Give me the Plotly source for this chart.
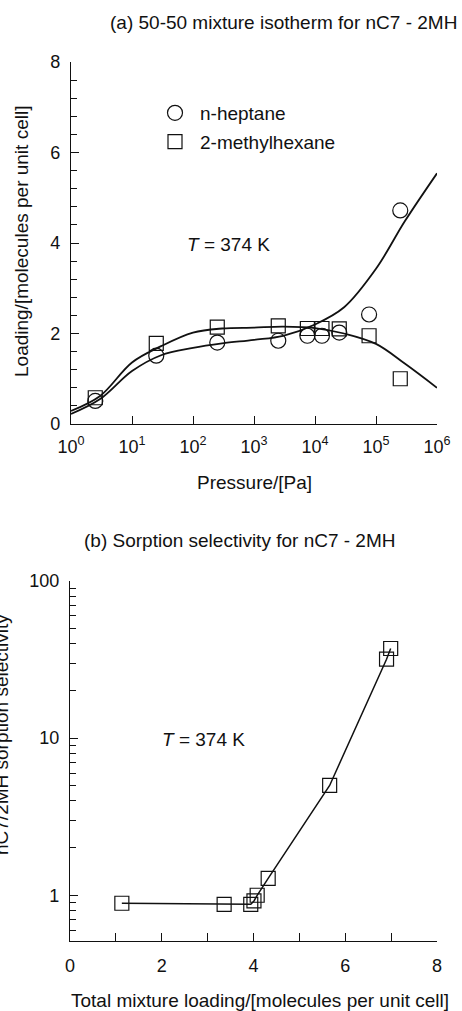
import plotly.graph_objects as go

W, H = 462, 1011

# ---------------- data ----------------
# (a) 50-50 mixture isotherm, simulated points
pressure_pa = [2.5, 25, 250, 2500, 7500, 13000, 25000, 77000, 250000]
nheptane_loading = [0.51, 1.51, 1.80, 1.84, 1.95, 1.95, 2.02, 2.42, 4.72]
methylhexane_loading = [0.58, 1.78, 2.14, 2.17, 2.11, 2.11, 2.10, 1.95, 1.00]

# (a) fitted model curves
curve_pressure = [1, 3, 10, 30, 100, 300, 1e3, 3e3, 1e4, 3e4, 1e5, 3e5, 1e6]
nheptane_fit = [0.22, 0.55, 1.17, 1.52, 1.68, 1.78, 1.86, 1.95, 2.20, 2.58, 3.43, 4.49, 5.54]
methylhexane_fit = [0.29, 0.62, 1.36, 1.72, 2.02, 2.11, 2.13, 2.15, 2.12, 2.00, 1.77, 1.33, 0.80]

# (b) sorption selectivity vs total loading
total_loading = [1.13, 3.36, 3.94, 4.01, 4.08, 4.32, 5.66, 6.90, 6.99]
selectivity = [0.89, 0.876, 0.876, 0.92, 1.0, 1.28, 5.0, 31.8, 37.2]

top_xtick_vals = [1, 10, 100, 1e3, 1e4, 1e5, 1e6]
top_xtick_text = ["10<sup>%d</sup>" % i for i in range(7)]
top_ytick_vals = [0, 2, 4, 6, 8]
bot_xtick_vals = [0, 1, 2, 3, 4, 5, 6, 7, 8]
bot_xtick_text = ["0", "", "2", "", "4", "", "6", "", "8"]
bot_ytick_vals = [1, 10, 100]

# ---------------- helpers (layout only) ----------------
def px_x(x):
    return x / W

def px_y(y):
    return 1 - y / H

FONT = "Liberation Sans, Arial, Helvetica, sans-serif"
BLACK = "#111111"

fig = go.Figure()

fig.add_trace(go.Scatter(x=curve_pressure, y=nheptane_fit, mode="lines",
                         line=dict(color=BLACK, width=1.8, shape="spline", smoothing=1.0),
                         showlegend=False, xaxis="x", yaxis="y"))
fig.add_trace(go.Scatter(x=curve_pressure, y=methylhexane_fit, mode="lines",
                         line=dict(color=BLACK, width=1.8, shape="spline", smoothing=1.0),
                         showlegend=False, xaxis="x", yaxis="y"))
fig.add_trace(go.Scatter(x=pressure_pa, y=nheptane_loading, mode="markers", name="n-heptane",
                         legendgroup="a",
                         marker=dict(symbol="circle-open", size=15, color=BLACK, line=dict(width=1.2, color=BLACK)),
                         xaxis="x", yaxis="y"))
fig.add_trace(go.Scatter(x=pressure_pa, y=methylhexane_loading, mode="markers", name="2-methylhexane",
                         legendgroup="b",
                         marker=dict(symbol="square-open", size=14, color=BLACK, line=dict(width=1.2, color=BLACK)),
                         xaxis="x", yaxis="y"))

fig.add_trace(go.Scatter(x=total_loading, y=selectivity, mode="lines+markers",
                         line=dict(color=BLACK, width=1.5),
                         marker=dict(symbol="square-open", size=14, color=BLACK, line=dict(width=1.2, color=BLACK)),
                         showlegend=False, xaxis="x2", yaxis="y2"))

axis_common = dict(showgrid=False, zeroline=False, showline=True, linecolor=BLACK, linewidth=1.2,
                   ticks="inside", tickcolor=BLACK, tickwidth=1, ticklen=8, automargin=False,
                   tickfont=dict(family=FONT, size=18, color=BLACK), mirror=False)

top_minor = [round(0.4 * i, 1) for i in range(1, 20) if round(0.4 * i, 1) % 2 != 0]
bot_minor = [0.6, 0.7, 0.8, 0.9] + [float(k) for k in range(2, 10)] + [float(k * 10) for k in range(2, 10)]

fig.update_layout(
    width=W, height=H,
    margin=dict(l=0, r=0, t=0, b=0, autoexpand=False),
    paper_bgcolor="white", plot_bgcolor="white",
    font=dict(family=FONT, size=18, color=BLACK),
    showlegend=True,
    legend=dict(x=px_x(150), y=px_y(94), xanchor="left", yanchor="top",
                bgcolor="rgba(0,0,0,0)", font=dict(family=FONT, size=19, color=BLACK),
                traceorder="grouped", tracegroupgap=1, itemwidth=40),
    xaxis=dict(type="log", range=[0, 6], domain=[px_x(71), px_x(437)], anchor="y",
               tickmode="array", tickvals=top_xtick_vals, ticktext=top_xtick_text,
               ticklabelstandoff=6, **axis_common),
    yaxis=dict(range=[0, 8], domain=[px_y(424), px_y(62)], anchor="x",
               tickmode="array", tickvals=top_ytick_vals, ticklabelstandoff=6,
               minor=dict(tickmode="array", tickvals=top_minor, ticks="inside", ticklen=6,
                          tickcolor=BLACK, tickwidth=1),
               **axis_common),
    xaxis2=dict(range=[0, 8], domain=[px_x(70), px_x(437)], anchor="y2",
                tickmode="array", tickvals=bot_xtick_vals, ticktext=bot_xtick_text,
                ticklabelstandoff=8, **axis_common),
    yaxis2=dict(type="log", range=[-0.291, 2], domain=[px_y(941), px_y(581)], anchor="x2",
                tickmode="array", tickvals=bot_ytick_vals, ticklabelstandoff=6,
                minor=dict(tickmode="array", tickvals=bot_minor, ticks="inside", ticklen=6,
                           tickcolor=BLACK, tickwidth=1),
                **axis_common),
)

def ann(text, x, y, size=19, xanchor="center", angle=0):
    fig.add_annotation(text=text, x=px_x(x), y=px_y(y), xref="paper", yref="paper",
                       xanchor=xanchor, yanchor="middle", showarrow=False, textangle=angle,
                       font=dict(family=FONT, size=size, color=BLACK))

ann("(a) 50-50 mixture isotherm for nC7 - 2MH", 283, 22)
ann("Pressure/[Pa]", 254, 483)
ann("Loading/[molecules per unit cell]", 22, 242, angle=-90)
ann("<i>T</i> = 374 K", 185, 245, xanchor="left")
ann("(b) Sorption selectivity for nC7 - 2MH", 240, 540)
ann("nC7/2MH sorption selectivity", 1, 735, angle=-90)
ann("<i>T</i> = 374 K", 160, 739, xanchor="left")
ann("Total mixture loading/[molecules per unit cell]", 260, 1000)

fig.write_html("out.html")
